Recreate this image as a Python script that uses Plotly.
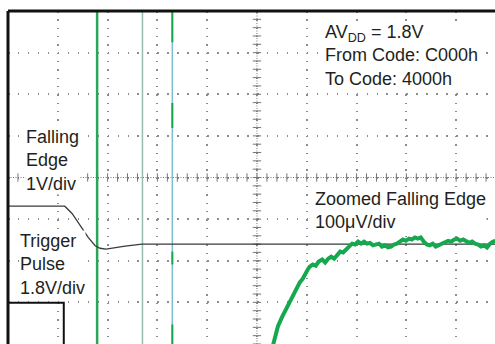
import numpy as np
import plotly.graph_objects as go

# Oscilloscope screen measured in divisions: 10 horizontal, 8 vertical (±4), centre (5, 0)
X_RANGE = [0, 9.78]
Y_RANGE = [-4, 4]

# Falling edge (1V/div) trace
falling_x = [0, 1.14, 1.29, 1.45, 1.61, 1.75, 1.85, 1.97, 2.15, 2.35, 2.69, 4.12, 9.80]
falling_y = [-0.69, -0.69, -0.87, -1.16, -1.44, -1.64, -1.70, -1.72, -1.68, -1.65, -1.60, -1.60, -1.60]

# Trigger pulse (1.8V/div)
trigger_x = [0, 1.12, 1.12]
trigger_y = [-3.01, -3.01, -4.5]

# Zoomed falling edge (100uV/div)
zoom_x = [5.32, 5.38, 5.42, 5.50, 5.58, 5.64, 5.70, 5.76, 5.82, 5.86, 5.92, 5.96, 6.02, 6.06,
          6.12, 6.18, 6.24, 6.31, 6.37, 6.43, 6.49, 6.55, 6.61, 6.67, 6.73, 6.79, 6.85, 6.91,
          6.97, 7.03, 7.09, 7.15, 7.21, 7.27, 7.33, 7.39, 7.45, 7.51, 7.57, 7.63, 7.69, 7.75,
          7.81, 7.87, 7.93, 7.99, 8.05, 8.11, 8.17, 8.23, 8.29, 8.35, 8.41, 8.47, 8.53, 8.59,
          8.65, 8.71, 8.78, 8.84, 8.90, 8.96, 9.02, 9.08, 9.14, 9.20, 9.26, 9.32, 9.38, 9.44,
          9.50, 9.56, 9.62, 9.68, 9.74, 9.80]
zoom_y = [-4.04, -3.79, -3.58, -3.36, -3.17, -3.03, -2.93, -2.76, -2.62, -2.52, -2.43, -2.33,
          -2.21, -2.14, -2.09, -2.12, -2.02, -1.97, -2.04, -1.95, -1.90, -1.95, -1.85, -1.78,
          -1.80, -1.73, -1.63, -1.59, -1.61, -1.54, -1.59, -1.54, -1.59, -1.57, -1.63, -1.61,
          -1.59, -1.66, -1.63, -1.68, -1.66, -1.61, -1.59, -1.54, -1.49, -1.52, -1.47, -1.49,
          -1.44, -1.47, -1.44, -1.54, -1.61, -1.63, -1.59, -1.66, -1.63, -1.59, -1.57, -1.52,
          -1.54, -1.49, -1.47, -1.52, -1.49, -1.54, -1.57, -1.54, -1.59, -1.61, -1.66, -1.63,
          -1.68, -1.59, -1.54, -1.52]

# Vertical glitch lines on the screen
glitch_x = [1.79, 2.70, 3.30]
glitch_colors = ["#2aa65a", "#93bdb2", "#7dbdcc"]
glitch_widths = [2.5, 1.5, 1.5]
glitch3_green_top = [4.0, 1.79, -1.78, -3.53]
glitch3_green_bottom = [3.25, 1.19, -2.09, -4.0]

GRID = "#8c8c8c"
TEXT = "#231f20"
GREEN = "#15a84e"

fig = go.Figure()

# centre axes with minor ticks
cx = np.round(np.arange(0, 10.01, 0.2), 2)
cy = np.round(np.arange(-4, 4.01, 0.2), 2)
fig.add_trace(go.Scatter(x=cx, y=[0] * len(cx), mode="markers",
                         marker=dict(symbol="line-ns", size=6, line=dict(width=1, color="#777")),
                         hoverinfo="skip", showlegend=False))
fig.add_trace(go.Scatter(x=[5] * len(cy), y=cy, mode="markers",
                         marker=dict(symbol="line-ew", size=6, line=dict(width=1, color="#777")),
                         hoverinfo="skip", showlegend=False))
fig.add_trace(go.Scatter(x=[0, 10], y=[0, 0], mode="lines",
                         line=dict(color="#777", width=1, dash="1px,1.5px"),
                         hoverinfo="skip", showlegend=False))
fig.add_trace(go.Scatter(x=[5, 5], y=[-4, 4], mode="lines",
                         line=dict(color="#777", width=1, dash="1px,1.5px"),
                         hoverinfo="skip", showlegend=False))

# glitch lines
for gx, gc, gw in zip(glitch_x, glitch_colors, glitch_widths):
    fig.add_trace(go.Scatter(x=[gx, gx], y=[-4, 4], mode="lines",
                             line=dict(color=gc, width=gw), hoverinfo="skip", showlegend=False))
for t, b in zip(glitch3_green_top, glitch3_green_bottom):
    fig.add_trace(go.Scatter(x=[glitch_x[2], glitch_x[2]], y=[t, b], mode="lines",
                             line=dict(color=GREEN, width=2), hoverinfo="skip", showlegend=False))

fig.add_trace(go.Scatter(x=falling_x, y=falling_y, mode="lines",
                         line=dict(color="#3a3a3a", width=1.3), showlegend=False))
fig.add_trace(go.Scatter(x=trigger_x, y=trigger_y, mode="lines",
                         line=dict(color="#111", width=2), showlegend=False))
fig.add_trace(go.Scatter(x=zoom_x, y=zoom_y, mode="lines",
                         line=dict(color=GREEN, width=4), showlegend=False))

font = dict(family="Liberation Sans, Arial, sans-serif", size=18, color=TEXT)
notes = [
    (6.35, 2.92, "AV<sub>DD</sub> = 1.8V<br>From Code: C000h<br>To Code: 4000h"),
    (0.34, 0.42, "Falling<br>Edge<br>1V/div"),
    (0.22, -2.08, "Trigger<br>Pulse<br>1.8V/div"),
    (6.14, -0.80, "Zoomed Falling Edge<br>100μV/div"),
]
for x, y, t in notes:
    fig.add_annotation(x=x, y=y, text=t, showarrow=False, xanchor="left", yanchor="middle",
                       align="left", font=font, bgcolor="white", borderpad=0)

fig.add_shape(type="line", xref="paper", yref="paper", x0=0, x1=1, y0=1, y1=1,
              line=dict(color="#111", width=3))
fig.add_shape(type="line", xref="paper", yref="paper", x0=0, x1=0, y0=0, y1=1,
              line=dict(color="#111", width=3))

fig.update_xaxes(range=X_RANGE, dtick=1, tick0=0, showticklabels=False, ticks="",
                 showgrid=True, gridcolor=GRID, gridwidth=1.5, griddash="1.5px,6.83px",
                 zeroline=False, showline=False)
fig.update_yaxes(range=Y_RANGE, dtick=1, tick0=0, showticklabels=False, ticks="",
                 showgrid=True, gridcolor=GRID, gridwidth=1.5, griddash="1.5px,8.46px",
                 zeroline=False, showline=False)
fig.update_layout(width=495, height=344, margin=dict(l=8, r=0, t=11, b=0),
                  plot_bgcolor="white", paper_bgcolor="white")

fig.write_html("out.html", config={"displayModeBar": False},
               post_script="document.body.style.margin='0';document.body.style.overflow='hidden';")
